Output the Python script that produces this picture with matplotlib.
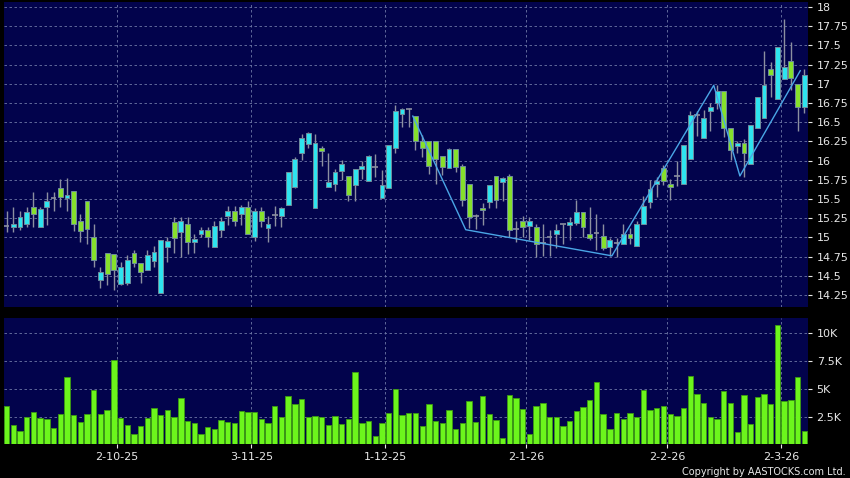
import numpy as np
import matplotlib
matplotlib.use('Agg')
import matplotlib.pyplot as plt

#--------------------------------------
# Daily candles (index 0 = first session on the chart)
#--------------------------------------
opens = [15.15, 15.13, 15.13, 15.17, 15.40, 15.13, 15.40, 15.51, 15.64, 15.51,
         15.60, 15.21, 15.47, 15.01, 14.45, 14.80, 14.79, 14.39, 14.41, 14.80,
         14.67, 14.58, 14.69, 14.28, 14.88, 15.20, 15.07, 15.17, 14.94, 15.04,
         15.10, 14.88, 15.10, 15.28, 15.35, 15.31, 15.39, 15.00, 15.34, 15.12,
         15.29, 15.28, 15.42, 15.65, 16.10, 16.21, 15.38, 16.16, 15.65, 15.70,
         15.87, 15.80, 15.68, 15.89, 15.74, 15.92, 15.51, 15.64, 16.17, 16.61,
         16.67, 16.58, 16.26, 16.26, 16.26, 16.06, 15.90, 16.15, 15.93, 15.70,
         15.28, 15.38, 15.46, 15.80, 15.72, 15.80, 15.11, 15.22, 15.15, 15.14,
         14.93, 15.00, 15.04, 15.17, 15.16, 15.19, 15.33, 15.04, 15.06, 15.02,
         14.88, 14.93, 14.91, 15.04, 14.89, 15.18, 15.46, 15.70, 15.91, 15.70,
         15.80, 15.70, 16.02, 16.59, 16.30, 16.65, 16.75, 16.90, 16.42, 16.19,
         16.23, 15.96, 16.42, 16.55, 17.19, 16.80, 17.06, 17.30, 17.00, 16.70]
highs = [15.34, 15.39, 15.34, 15.39, 15.59, 15.40, 15.59, 15.59, 15.76, 15.78,
         15.60, 15.30, 15.47, 15.17, 14.62, 14.80, 14.79, 14.68, 14.77, 14.84,
         14.67, 14.84, 14.89, 14.96, 15.01, 15.26, 15.26, 15.27, 15.04, 15.14,
         15.14, 15.21, 15.27, 15.41, 15.41, 15.42, 15.47, 15.38, 15.39, 15.28,
         15.41, 15.40, 15.85, 16.05, 16.34, 16.37, 16.34, 16.19, 16.10, 15.89,
         16.01, 15.80, 15.89, 15.99, 16.07, 16.08, 15.88, 16.20, 16.72, 16.68,
         16.68, 16.58, 16.33, 16.26, 16.26, 16.06, 16.17, 16.15, 15.96, 15.70,
         15.30, 15.45, 15.68, 15.80, 15.79, 15.82, 15.21, 15.28, 15.27, 15.18,
         15.18, 15.10, 15.18, 15.18, 15.27, 15.49, 15.33, 15.39, 15.31, 15.18,
         14.99, 14.99, 15.17, 15.12, 15.22, 15.54, 15.75, 15.79, 15.94, 15.76,
         16.00, 16.20, 16.64, 16.64, 16.66, 16.75, 16.98, 16.90, 16.42, 16.25,
         16.28, 16.46, 16.83, 17.43, 17.28, 17.48, 17.84, 17.54, 17.00, 17.19]
lows = [15.07, 15.07, 15.09, 15.13, 15.13, 15.13, 15.16, 15.34, 15.40, 15.34,
        15.08, 14.94, 14.92, 14.62, 14.34, 14.38, 14.31, 14.38, 14.38, 14.62,
        14.41, 14.58, 14.62, 14.28, 14.68, 14.80, 14.75, 14.78, 14.80, 15.00,
        14.87, 14.88, 15.01, 15.16, 15.15, 15.16, 15.04, 14.95, 15.14, 14.94,
        15.15, 15.13, 15.42, 15.64, 16.01, 16.16, 15.38, 15.93, 15.65, 15.60,
        15.75, 15.47, 15.47, 15.76, 15.74, 15.79, 15.51, 15.64, 16.10, 16.44,
        16.44, 16.14, 16.05, 15.83, 15.70, 15.81, 15.90, 15.85, 15.41, 15.12,
        15.11, 15.16, 15.38, 15.38, 15.47, 15.01, 14.94, 15.01, 14.97, 14.75,
        14.76, 14.76, 14.86, 14.92, 14.97, 15.16, 15.01, 14.96, 14.84, 14.84,
        14.76, 14.75, 14.91, 14.91, 14.89, 15.18, 15.38, 15.53, 15.68, 15.49,
        15.67, 15.70, 16.02, 16.32, 16.30, 16.38, 16.67, 16.31, 16.01, 16.10,
        15.79, 15.96, 16.42, 16.55, 16.83, 16.80, 17.06, 16.92, 16.39, 16.62]
closes = [15.15, 15.17, 15.26, 15.33, 15.30, 15.37, 15.47, 15.51, 15.53, 15.55,
          15.17, 15.08, 15.11, 14.71, 14.55, 14.52, 14.58, 14.61, 14.71, 14.67,
          14.55, 14.77, 14.81, 14.96, 14.95, 14.99, 15.21, 14.94, 14.98, 15.10,
          15.01, 15.15, 15.21, 15.34, 15.22, 15.39, 15.04, 15.34, 15.22, 15.18,
          15.29, 15.38, 15.85, 16.02, 16.30, 16.36, 16.23, 16.12, 15.72, 15.85,
          15.95, 15.55, 15.89, 15.93, 16.06, 15.92, 15.68, 16.20, 16.65, 16.67,
          16.67, 16.26, 16.17, 15.93, 16.02, 15.92, 16.15, 15.92, 15.49, 15.26,
          15.28, 15.36, 15.68, 15.49, 15.78, 15.10, 15.11, 15.14, 15.21, 14.92,
          14.93, 15.00, 15.10, 15.17, 15.20, 15.33, 15.13, 14.99, 15.06, 14.86,
          14.96, 14.93, 15.04, 14.99, 15.18, 15.41, 15.63, 15.73, 15.73, 15.66,
          15.80, 16.20, 16.59, 16.59, 16.55, 16.70, 16.90, 16.42, 16.14, 16.23,
          16.10, 16.46, 16.83, 16.99, 17.11, 17.48, 17.22, 17.08, 16.70, 17.12]
# volume in thousands of shares
volume = [3.48, 1.76, 1.22, 2.53, 2.95, 2.41, 2.32, 1.52, 2.74, 6.10,
          2.68, 2.05, 2.77, 4.94, 2.80, 3.10, 7.56, 2.38, 1.76, 0.95,
          1.73, 2.44, 3.30, 2.71, 3.13, 2.53, 4.20, 2.14, 1.99, 1.01,
          1.58, 1.43, 2.20, 2.05, 1.93, 3.04, 2.95, 2.98, 2.32, 1.96,
          3.48, 2.50, 4.35, 3.69, 4.15, 2.53, 2.56, 2.50, 1.76, 2.62,
          1.85, 2.32, 6.52, 1.99, 2.14, 0.80, 1.99, 2.89, 4.97, 2.71,
          2.86, 2.86, 1.73, 3.66, 2.17, 1.99, 3.10, 1.40, 1.93, 3.90,
          2.05, 4.35, 2.74, 2.20, 0.65, 4.43, 4.17, 3.18, 0.95, 3.48,
          3.78, 2.47, 2.50, 1.67, 2.17, 3.04, 3.36, 4.05, 5.63, 2.77,
          1.46, 2.83, 2.29, 2.83, 2.47, 4.91, 3.13, 3.27, 3.45, 2.77,
          2.56, 3.33, 6.16, 4.52, 3.75, 2.47, 2.35, 4.85, 3.78, 1.13,
          4.43, 1.88, 4.26, 4.55, 3.69, 10.71, 3.90, 4.02, 6.04, 1.28]

# zigzag trend line (session index, price)
zig_x = [60.6, 68.5, 90.3, 105.5, 109.4, 118.4]
zig_y = [16.58, 15.10, 14.76, 16.98, 15.80, 17.17]

# date labels and the session index they sit on
date_labels = ['2-10-25', '3-11-25', '1-12-25', '2-1-26', '2-2-26', '2-3-26']
date_index = [16, 36, 56, 77, 98, 115]

price_ticks = [18, 17.75, 17.5, 17.25, 17, 16.75, 16.5, 16.25, 16, 15.75,
               15.5, 15.25, 15, 14.75, 14.5, 14.25]
price_labels = ['18', '17.75', '17.5', '17.25', '17', '16.75', '16.5', '16.25',
                '16', '15.75', '15.5', '15.25', '15', '14.75', '14.5', '14.25']
vol_ticks = [2.5, 5, 7.5, 10]
vol_labels = ['2.5K', '5K', '7.5K', '10K']
#--------------------------------------

o = np.array(opens)
h = np.array(highs)
l = np.array(lows)
c = np.array(closes)
v = np.array(volume)
idx = np.arange(len(o))

navy = '#02034c'
cyan = '#2ee4ef'
green = '#86e02c'
grey = '#8c90a0'
gridc = '#6e78a6'
txt = '#e8e8e8'

fig = plt.figure(figsize=(8.5, 4.78), dpi=100, facecolor='black')
ax = fig.add_axes([0.0047, 0.3584, 0.9462, 0.6374], facecolor=navy)
axv = fig.add_axes([0.0047, 0.0711, 0.9462, 0.2630], facecolor=navy)

grid_x = [d + 0.5 for d in date_index]

#--------------------------------------
# Price panel
#--------------------------------------
for yv in price_ticks:
    ax.axhline(yv, color=gridc, lw=0.6, ls=(0, (3, 3)), zorder=0)
for gx in grid_x:
    ax.axvline(gx, color=gridc, lw=0.6, ls=(0, (3, 3)), zorder=0)

ax.vlines(idx, l, h, color=grey, lw=1.0, zorder=1)

up = c > o
dn = c < o
eq = c == o
ax.bar(idx[up], (c - o)[up], bottom=o[up], width=0.72, color=cyan,
       edgecolor='#6f8c9c', lw=0.7, zorder=2)
ax.bar(idx[dn], (o - c)[dn], bottom=c[dn], width=0.72, color=green,
       edgecolor='#6f8c9c', lw=0.7, zorder=2)
ax.hlines(c[eq], idx[eq] - 0.42, idx[eq] + 0.42, color=grey, lw=1.2, zorder=2)

ax.plot(zig_x, zig_y, color='#4aa6e6', lw=1.0, zorder=3)

ax.set_xlim(-0.39, 119.6)
ax.set_ylim(14.098, 18.065)
ax.yaxis.tick_right()
ax.set_yticks(price_ticks)
ax.set_yticklabels(price_labels)
ax.set_xticks([])
ax.tick_params(axis='y', colors=txt, labelsize=8, length=3, width=0.8, pad=3,
               labelcolor=txt)

#--------------------------------------
# Volume panel
#--------------------------------------
for yv in vol_ticks:
    axv.axhline(yv, color=gridc, lw=0.6, ls=(0, (3, 3)), zorder=0)
for gx in grid_x:
    axv.axvline(gx, color=gridc, lw=0.6, ls=(0, (3, 3)), zorder=0)

axv.bar(idx, v, width=0.8, color='#6cf51c', edgecolor='#3c9a12', lw=0.6, zorder=2)

axv.set_xlim(-0.39, 119.6)
axv.set_ylim(0.09, 11.31)
axv.yaxis.tick_right()
axv.set_yticks(vol_ticks)
axv.set_yticklabels(vol_labels)
axv.set_xticks(grid_x)
axv.set_xticklabels(date_labels)
axv.tick_params(axis='both', colors=txt, labelsize=8, length=3, width=0.8,
                pad=3, labelcolor=txt)

for a in (ax, axv):
    for s in a.spines.values():
        s.set_visible(False)

fig.text(0.995, 0.003, 'Copyright by AASTOCKS.com Ltd.', color=txt,
         fontsize=7, ha='right', va='bottom')

fig.savefig('out.png', dpi=100, facecolor='black')
